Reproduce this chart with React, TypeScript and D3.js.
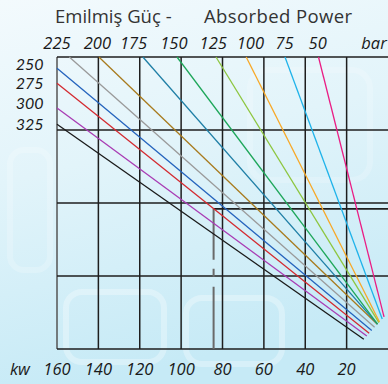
import React from 'react';
import * as d3 from 'd3';

const W = 388;
const H = 384;

// pressure lines (bar) with kW read at two flow levels
const pressures = [325, 300, 275, 250, 225, 200, 175, 150, 125, 100, 75, 50];
const kwAtFlow75 = [156, 145.5, 131.8, 124.2, 114.2, 103, 87.5, 75.5, 61.5, 50.8, 36.7, 24.7];
const kwAtFlow25 = [55.3, 49.6, 43.7, 39.5, 34.5, 29.5, 25.5, 22.5, 18.2, 15.3, 10.5, 6.9];
const lineColors = ['#1a1a1a', '#a93cb4', '#d42a30', '#2463bd', '#9a9a9a', '#a87b1e', '#1f7fa6', '#1ea75a', '#8dc63f', '#f8a826', '#1fb3ea', '#ea1d84'];

const kwTicks = [160, 140, 120, 100, 80, 60, 40, 20];
const flowTicks = [0, 25, 50, 75, 100];

const topLabels = ['225', '200', '175', '150', '125', '100', '75', '50'];
const topLabelKw = [160, 140.5, 123, 103.5, 84.5, 66.5, 50, 34];
const leftLabels = ['250', '275', '300', '325'];
const leftLabelFlow = [97.5, 91, 84.2, 77];

const cutKw = [11.1, 1.9];
const cutFlow = [3.8, 11];

const markerKw = 84.3;
const markerFlow = 48;

const FONT = "'Open Sans', 'Noto Sans', sans-serif";

export default function App() {
  const x = d3.scaleLinear().domain([160, 0]).range([57, 388]);
  const y = d3.scaleLinear().domain([0, 100]).range([349, 57]);
  const line = d3
    .line<[number, number]>()
    .x((d) => x(d[0]))
    .y((d) => y(d[1]));

  const segs = pressures.map((p, i) => {
    const hi = kwAtFlow75[i];
    const lo = kwAtFlow25[i];
    const slope = (hi - lo) / 50; // kW per flow unit
    const kwAt = (f: number) => lo + slope * (f - 25);
    let start: [number, number];
    if (kwAt(100) <= 160) start = [kwAt(100), 100];
    else start = [160, 25 + (160 - lo) / slope];
    const cs = (cutKw[1] - cutKw[0]) / (cutFlow[1] - cutFlow[0]);
    const f = (cutKw[0] - cs * cutFlow[0] - lo + slope * 25) / (slope - cs);
    const end: [number, number] = [kwAt(f), f];
    return { p, color: lineColors[i], d: line([start, end]) || '' };
  });

  const gridColor = '#1e1e1e';

  return (
    <svg
      width={W}
      height={H}
      viewBox={`0 0 ${W} ${H}`}
      style={{ position: 'absolute', left: 0, top: 0, display: 'block' }}
    >
      <defs>
        <linearGradient id="bg" x1="0" y1="0" x2="0.25" y2="1">
          <stop offset="0" stopColor="#f3fafd" />
          <stop offset="0.45" stopColor="#e2f4fa" />
          <stop offset="1" stopColor="#c6eaf6" />
        </linearGradient>
      </defs>
      <rect x={0} y={0} width={W} height={H} fill="url(#bg)" />
      {/* faint decorative tiles */}
      <g fill="none" stroke="#ffffff" strokeOpacity={0.3} strokeWidth={6}>
        <rect x={66} y={292} width={98} height={70} rx={16} />
        <rect x={186} y={298} width={96} height={66} rx={16} />
        <rect x={250} y={70} width={120} height={110} rx={18} strokeOpacity={0.18} />
        <rect x={10} y={150} width={40} height={120} rx={14} strokeOpacity={0.2} />
      </g>

      {/* grid */}
      <g stroke={gridColor} strokeWidth={1.5}>
        {kwTicks.map((k) => (
          <line key={'v' + k} x1={x(k)} x2={x(k)} y1={y(100)} y2={y(0)} stroke={k === 160 ? '#555' : gridColor} />
        ))}
        {flowTicks.map((f) => (
          <line key={'h' + f} x1={x(160)} x2={x(0)} y1={y(f)} y2={y(f)} />
        ))}
        <line x1={x(markerKw)} x2={x(0)} y1={y(markerFlow)} y2={y(markerFlow)} strokeWidth={1.8} />
        <line
          x1={x(markerKw)}
          x2={x(markerKw)}
          y1={y(markerFlow)}
          y2={y(0)}
          stroke="#6a6a6a"
          strokeWidth={2}
          strokeDasharray="51 9 8 10 300"
        />
      </g>

      {/* pressure lines */}
      <g fill="none" strokeWidth={1.3}>
        {segs.map((s) => (
          <path key={s.p} d={s.d} stroke={s.color} />
        ))}
      </g>

      {/* title */}
      <g fontFamily={FONT} fontSize={18.5} fill="#333">
        <text x={55} y={23}>Emilmiş Güç -</text>
        <text x={204} y={23} textLength={148} lengthAdjust="spacing">Absorbed Power</text>
      </g>

      {/* pressure labels top */}
      <g fontFamily={FONT} fontSize={16.5} fontStyle="italic" fill="#1a1a1a" textAnchor="middle">
        {topLabels.map((t, i) => (
          <text key={t} x={x(topLabelKw[i])} y={49}>
            {t}
          </text>
        ))}
        <text x={374} y={49}>bar</text>
      </g>

      {/* pressure labels left */}
      <g fontFamily="Lato, 'Open Sans', sans-serif" fontSize={16} fontStyle="italic" fill="#1a1a1a" textAnchor="end">
        {leftLabels.map((t, i) => (
          <text key={t} x={43.5} y={y(leftLabelFlow[i]) + 6}>
            {t}
          </text>
        ))}
      </g>

      {/* kW axis */}
      <g fontFamily={FONT} fontSize={16.5} fontStyle="italic" fill="#1a1a1a" textAnchor="middle">
        <text x={10} y={375} textAnchor="start">kw</text>
        {kwTicks.map((k) => (
          <text key={'t' + k} x={x(k)} y={375}>
            {k}
          </text>
        ))}
      </g>
    </svg>
  );
}
